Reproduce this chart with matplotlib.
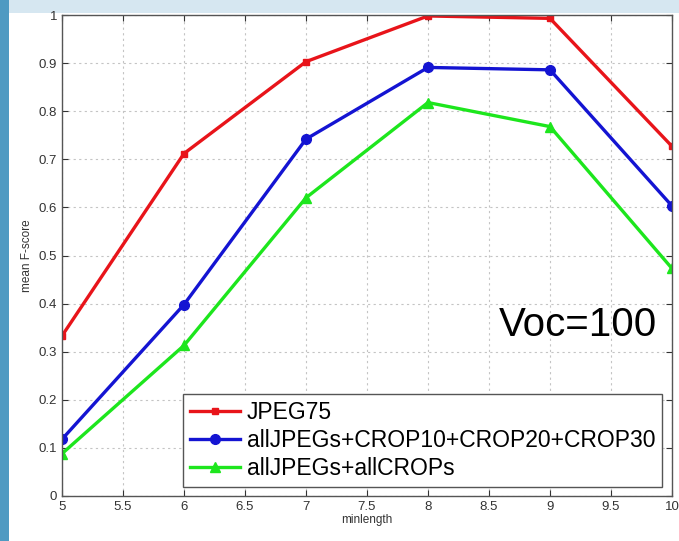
import matplotlib
matplotlib.use("Agg")
import matplotlib.pyplot as plt
from matplotlib.patches import Rectangle

plt.rcParams['font.family'] = ['Liberation Sans', 'DejaVu Sans']

minlength = [5, 6, 7, 8, 9, 10]
jpeg75 = [0.333, 0.712, 0.903, 0.998, 0.993, 0.727]
crop102030 = [0.118, 0.398, 0.742, 0.891, 0.886, 0.603]
allcrops = [0.088, 0.313, 0.620, 0.818, 0.768, 0.473]
series_names = ['JPEG75', 'allJPEGs+CROP10+CROP20+CROP30', 'allJPEGs+allCROPs']

fig = plt.figure(figsize=(6.79, 5.41), dpi=100, facecolor='#d6e7f1')
# slide background: blue strip on the left, white panel behind the chart
fig.patches.append(Rectangle((0, 0), 9 / 679, 1, transform=fig.transFigure,
                             facecolor='#4f9ac2', edgecolor='none', zorder=-2))
fig.patches.append(Rectangle((9 / 679, 0), 1, 1 - 13 / 541, transform=fig.transFigure,
                             facecolor='white', edgecolor='none', zorder=-2))

ax = fig.add_axes([62 / 679, 45 / 541, 610 / 679, 481 / 541])
ax.plot(minlength, jpeg75, color='#e8141a', lw=2.4, marker='s', ms=4, label=series_names[0])
ax.plot(minlength, crop102030, color='#1414d2', lw=2.4, marker='o', ms=7, label=series_names[1])
ax.plot(minlength, allcrops, color='#1de61d', lw=2.4, marker='^', ms=7, label=series_names[2])

ax.set_xlim(5, 10)
ax.set_ylim(0, 1)
ax.set_xticks([5, 5.5, 6, 6.5, 7, 7.5, 8, 8.5, 9, 9.5, 10])
ax.set_xticklabels(['5', '5.5', '6', '6.5', '7', '7.5', '8', '8.5', '9', '9.5', '10'])
ax.set_yticks([i / 10 for i in range(11)])
ax.set_yticklabels(['0', '0.1', '0.2', '0.3', '0.4', '0.5', '0.6', '0.7', '0.8', '0.9', '1'])
ax.tick_params(direction='in', labelsize=9.5, colors='#333333', length=4, top=True, right=True)
ax.grid(True, color='#c4c4c4', linestyle=(0, (2, 3)), lw=0.8)
for s in ax.spines.values():
    s.set_color('#555555')
    s.set_linewidth(1.0)
ax.set_xlabel('minlength', fontsize=8.5, color='#333333', labelpad=1)
ax.set_ylabel('mean F-score', fontsize=8.5, color='#333333', labelpad=4)

ax.text(0.975, 0.355, 'Voc=100', transform=ax.transAxes, ha='right', va='center',
        fontsize=29, color='black')

leg = ax.legend(loc='lower right', bbox_to_anchor=(0.984, 0.019), borderaxespad=0,
                fontsize=16.5, handlelength=2.2, handletextpad=0.3, borderpad=0.3,
                labelspacing=0.22, fancybox=False, framealpha=1, edgecolor='#555555')
leg.get_frame().set_linewidth(1.0)

fig.savefig('out.png', dpi=100, facecolor=fig.get_facecolor())
